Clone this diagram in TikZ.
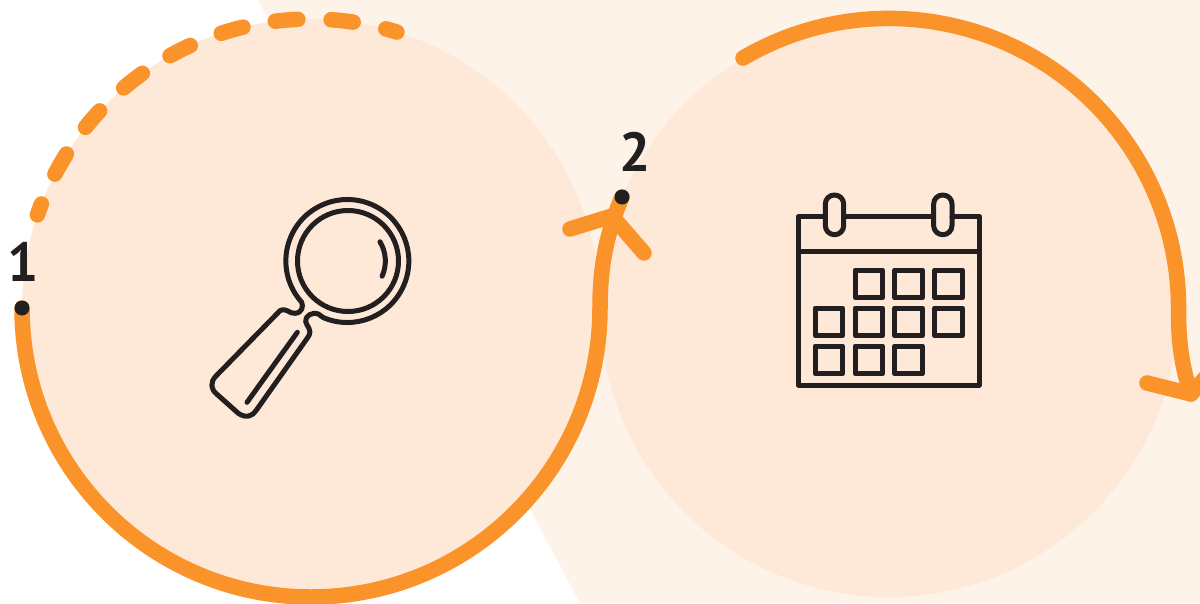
\documentclass[tikz,border=0pt]{standalone}
\usepackage{fontspec}
\usetikzlibrary{calc}
\setmainfont{PT Sans}
\definecolor{bgband}{HTML}{FEF3E9}
\definecolor{disc}{HTML}{FEE8D7}
\definecolor{route}{HTML}{F9932A}
\definecolor{ink}{HTML}{231F20}
\tikzset{
  routeline/.style={draw=route,line width=15.5pt,line cap=round,line join=round},
  inkline/.style={draw=ink,line width=5pt,line cap=round,line join=round},
  dotmark/.style={circle,fill=ink,inner sep=0pt,minimum size=15pt},
  numlabel/.style={text=ink,font=\bfseries\fontsize{55}{55}\selectfont,inner sep=0pt}
}
\begin{document}
\begin{tikzpicture}[x=1pt,y=-1pt]
\useasboundingbox (0,0) rectangle (1200,603);
\clip (0,0) rectangle (1200,603);
\fill[white] (0,0) rectangle (1200,603);
\fill[bgband] (258,0) -- (580,603) -- (1200,603) -- (1200,0) -- cycle;
\coordinate (c1) at (311,308);
\coordinate (c2) at (889,308);
\fill[disc] (c1) circle (289);
\fill[disc] (c2) circle (289);

% dashed part of the first route
\foreach \a/\b in {198.8/201.1,207.6/212.2,218.7/223,229.6/234.3,240.8/245.3,251.9/256.4,262.9/267.4,274/278.4,285/287.3}
  \draw[routeline] ($(c1)+(\a:289)$) arc (\a:\b:289);

\coordinate (one) at (22,308);
\coordinate (two) at (622,197);
\coordinate (b1) at (570,229);
\coordinate (b2) at (644,253);
\coordinate (t1) at (612,216);
\coordinate (s2) at (743,58);
\coordinate (t2) at (1191,394);
\coordinate (b3) at (1147,383);
\coordinate (b4) at (1228,352);

\draw[routeline] (one) arc (180:0:289) .. controls (600,265) and (607,232) .. (two);
\draw[routeline] (b1) -- (t1) -- (b2);
\draw[routeline] (s2) arc (239.7:360:289.5) .. controls (1178,340) and (1182,368) .. (t2);
\draw[routeline] (b3) -- (t2) -- (b4);

\node[dotmark] (dot1) at (one) {};
\node[dotmark] (dot2) at (two) {};
\node[numlabel] (lab1) at (23,262) {1};
\node[numlabel] (lab2) at (635,152) {2};

% magnifier
\begin{scope}[shift={(190,180)},scale=1/3]
  \draw[inkline] (474,243) circle (151.5);
  \draw[inkline] (472,243) ++(113:184.5) arc (113:-222:184.5)
    .. controls (340,378) and (338,398) .. (315,400)
    .. controls (298,402) and (290,382) .. (270,392)
    -- (78,588) .. controls (60,606) and (62,628) .. (80,642)
    -- (145,700) .. controls (168,716) and (188,708) .. (198,692)
    -- (355,470) .. controls (368,448) and (350,440) .. (347,425)
    .. controls (345,408) and (365,395) .. (385,402) -- cycle;
  \draw[inkline] (474,243) ++(-31:112) arc (-31:24:112);
  \draw[inkline] (322,457) -- (171,667);
\end{scope}

% calendar
\begin{scope}[shift={(780,180)},scale=1/3]
  \draw[inkline] (136,110) -- (55,110) -- (55,615) -- (598,615) -- (598,110) -- (516,110);
  \draw[inkline] (191,110) -- (461,110);
  \draw[inkline] (55,215) -- (598,215);
  \draw[inkline,rounded corners=9pt] (136,45) rectangle (191,164);
  \draw[inkline,rounded corners=9pt] (461,45) rectangle (516,164);
  \foreach \x/\y in {225/270,344/270,464/270,105/384,225/384,344/384,464/384,105/498,225/498,344/498}
    \draw[inkline] (\x,\y) rectangle ++(83,83);
\end{scope}
\end{tikzpicture}
\end{document}
